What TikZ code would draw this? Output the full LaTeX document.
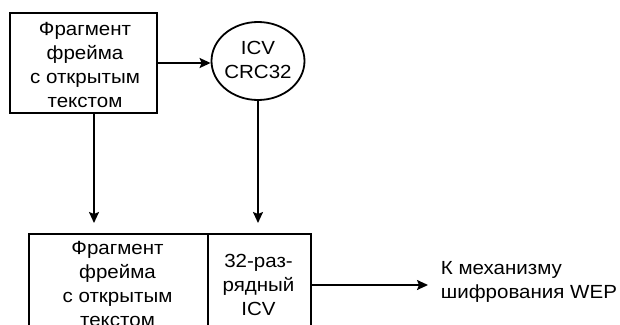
\documentclass[tikz,border=0pt]{standalone}
\usepackage{fontspec}
\setmainfont{Liberation Sans}[FakeStretch=1.08]
\usetikzlibrary{arrows.meta,shapes.geometric}
\begin{document}
\begin{tikzpicture}[x=1pt,y=-1pt,
  line width=1.8pt,
  txt/.style={align=center, inner sep=0pt, font=\fontsize{19}{24}\selectfont},
  box/.style={draw, inner sep=0pt, line width=1.8pt},
  arr/.style={-{Stealth[length=11pt,width=10pt,inset=2pt]}, line width=1.8pt}]
\useasboundingbox (0,0) rectangle (620,324);
\clip (0,0) rectangle (620,324);
% top box
\node[box, minimum width=147pt, minimum height=100pt] (tb) at (83.5,63) {};
\node[txt, anchor=north] (tbt) at (85,21) {Фрагмент\\фрейма\\с открытым\\текстом};
% circle
\node[box, ellipse, minimum width=93pt, minimum height=78pt] (c) at (258,61) {};
\node[txt, anchor=north] (ct) at (258,40) {ICV\\CRC32};
% bottom boxes
\node[box, anchor=north west, minimum width=179pt, minimum height=120pt] (lb) at (28,233) {};
\node[box, anchor=north west, minimum width=103pt, minimum height=120pt] (rb) at (207,233) {};
\node[txt, anchor=north] (lbt) at (117.5,240) {Фрагмент\\фрейма\\с открытым\\текстом};
\node[txt, anchor=north] (rbt) at (258.5,253) {32-раз-\\рядный\\ICV};
% output text
\node[txt, align=left, anchor=north west] (wep) at (440,261) {К механизму\\шифрования WEP};
\coordinate (wepin) at (428,285);
\coordinate (d1) at (94,0);
% connectors
\draw[arr] (tb.east) -- (tb.east -| c.west);
\draw[arr, shorten >=10pt] (tb.south -| d1) -- (lb.north -| d1);
\draw[arr, shorten >=10pt] (c.south) -- (c.south |- lb.north);
\draw[arr] (rb.east |- wepin) -- (wepin);
\end{tikzpicture}
\end{document}
